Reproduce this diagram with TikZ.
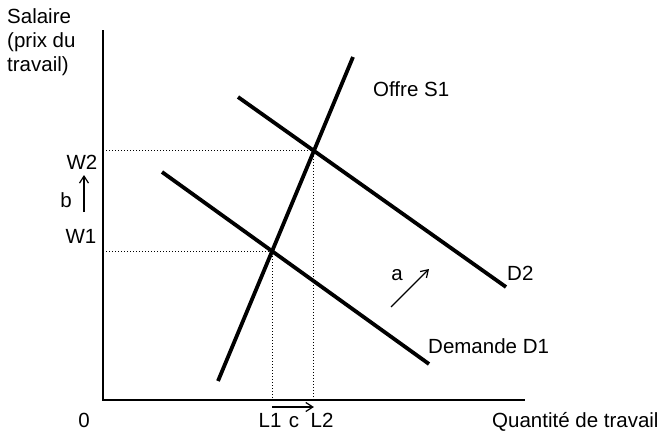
\documentclass[tikz,border=0pt]{standalone}
\usepackage{fontspec}
\setmainfont{Liberation Sans}
\usetikzlibrary{arrows.meta, intersections}
\tikzset{
    axisline/.style={line width=1.5pt, draw=black},
    curveline/.style={line width=3.8pt, draw=black},
    guideline/.style={line width=1pt, dash pattern=on 1pt off 2pt, draw=black},
    shiftarrow/.style={-{Straight Barb[length=7pt, width=9pt]}, line width=1.2pt},
    lbl/.style={inner sep=0pt, anchor=base, font=\fontsize{20.5}{24}\selectfont},
    lblw/.style={lbl, anchor=base west}
}

\begin{document}
\begin{tikzpicture}[x=1pt, y=-1pt]
    \useasboundingbox (0,0) rectangle (661,434);

    \coordinate (origin) at (103,400);
    \coordinate (ytop) at (103,30);
    \coordinate (xend) at (525,400);
    \draw[axisline] (ytop) -- (origin) -- (xend);

    \draw[curveline, name path=S1] (218,381) -- (353,57);
    \draw[curveline, name path=D1] (162,172) -- (429,364);
    \draw[curveline, name path=D2] (238,97) -- (506,287);

    \path[name intersections={of=S1 and D1, by=E1}];
    \path[name intersections={of=S1 and D2, by=E2}];

    \draw[guideline] (E1 -| origin) -- (E1) -- (E1 |- origin);
    \draw[guideline] (E2 -| origin) -- (E2) -- (E2 |- origin);

    \node[lblw, align=left] (ylab) at (7,71) {Salaire\\(prix du\\travail)};
    \node[lbl] (zero) at (84,427) {0};
    \node[lblw] (xlab) at (492,427) {Quantité de travail};
    \node[lbl] (w2) at (82,169) {W2};
    \node[lbl] (w1) at (81,243) {W1};
    \node[lbl] (blab) at (66,207) {b};
    \node[lbl] (l1) at (270,427) {L1};
    \node[lbl] (clab) at (294,427) {c};
    \node[lbl] (l2) at (322,427) {L2};
    \node[lbl] (alab) at (397,280) {a};
    \node[lblw] (offre) at (373,96) {Offre S1};
    \node[lblw] (dem1) at (428,353) {Demande D1};
    \node[lblw] (dem2) at (507,280) {D2};

    \coordinate (bfrom) at (84,212);
    \coordinate (bto) at (84,175);
    \coordinate (afrom) at (391,307);
    \coordinate (ato) at (429,269);
    \coordinate (cfrom) at (E1 |- 0,407);
    \coordinate (cto) at (E2 |- 0,407);
    \draw[shiftarrow] (bfrom) -- (bto);
    \draw[shiftarrow] (afrom) -- (ato);
    \draw[shiftarrow] (cfrom) -- (cto);
\end{tikzpicture}
\end{document}
